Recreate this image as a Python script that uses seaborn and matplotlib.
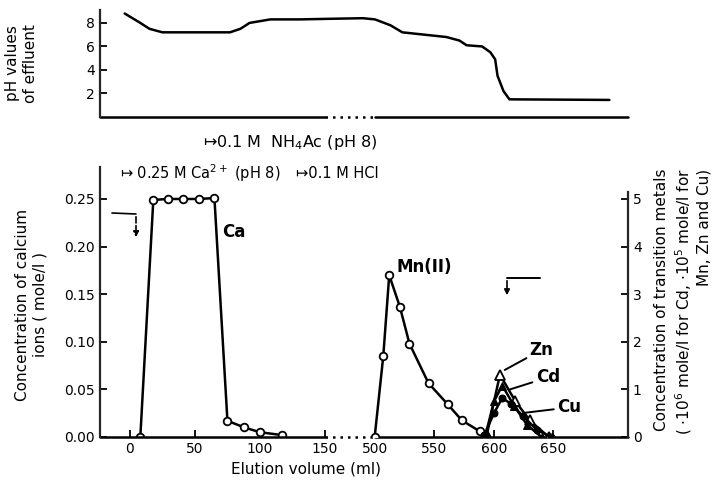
import numpy as np
import matplotlib
matplotlib.use("Agg")
import matplotlib.pyplot as plt
import seaborn as sns

# pH of effluent (top panel)
ph_vol = [-4, 8, 15, 25, 77, 85, 92, 108, 131, 185, 416, 500, 513, 523, 560, 571, 577, 590, 597, 601, 603, 608, 613, 697]
ph_val = [8.8, 8.0, 7.5, 7.2, 7.2, 7.5, 8.0, 8.3, 8.3, 8.35, 8.4, 8.3, 7.8, 7.2, 6.8, 6.5, 6.1, 6.0, 5.5, 4.9, 3.5, 2.2, 1.5, 1.45]

# calcium (left axis, mole/l)
ca_vol = [8, 18, 29, 41, 53, 65, 75, 88, 100, 117]
ca_conc = [0.0, 0.249, 0.250, 0.250, 0.250, 0.251, 0.017, 0.010, 0.005, 0.002]

# transition metals (right axis)
mn_vol = [498, 507, 512, 521, 529, 545, 561, 573, 588, 593]
mn_conc = [0.0, 1.7, 3.4, 2.73, 1.96, 1.13, 0.69, 0.35, 0.12, 0.0]
zn_vol = [594, 605, 618, 630, 646]
zn_conc = [0.05, 1.31, 0.75, 0.35, 0.0]
cd_vol = [593, 600, 607, 617, 628, 640]
cd_conc = [0.05, 0.75, 1.08, 0.65, 0.25, 0.0]
cu_vol = [592, 600, 607, 614, 624, 636, 648]
cu_conc = [0.05, 0.5, 0.82, 0.7, 0.45, 0.15, 0.0]

xticks = [0, 50, 100, 150, 500, 550, 600, 650]
ca_ticks = [0.0, 0.05, 0.10, 0.15, 0.20, 0.25]
tm_ticks = [0, 1, 2, 3, 4, 5]
ph_ticks = [2, 4, 6, 8]


# broken x axis: 150..500 ml squeezed into a short dotted stretch
def fwd(x):
    x = np.asarray(x, float)
    return np.where(x <= 150, 1.3 * x,
                    np.where(x >= 500, 245 + 1.19 * (x - 500), 195 + (x - 150) * 50 / 350))


def inv(u):
    u = np.asarray(u, float)
    return np.where(u <= 195, u / 1.3,
                    np.where(u >= 245, 500 + (u - 245) / 1.19, 150 + (u - 195) * 350 / 50))


sns.set_style("ticks")
plt.rcParams['font.family'] = ['DejaVu Sans']
plt.rcParams['text.color'] = 'k'
plt.rcParams['axes.labelcolor'] = 'k'
XMIN, XMAX = -23, 712.6

fig = plt.figure(figsize=(7.2, 4.8), dpi=100)
ax_ph = fig.add_axes([0.1389, 0.7563, 0.7333, 0.2229])
ax = fig.add_axes([0.1389, 0.0896, 0.7333, 0.5625])
ax2 = ax.twinx()

lw = 1.8
tick_kw = dict(direction='in', length=5, width=1.3, colors='k', labelsize=10)

# ---- top panel
for a in (ax_ph, ax):
    a.set_xscale('function', functions=(fwd, inv))
    a.set_xlim(XMIN, XMAX)

sns.lineplot(x=ph_vol, y=ph_val, ax=ax_ph, color='k', lw=lw, sort=False)
ax_ph.set_ylim(0, 9.1)
ax_ph.set_yticks(ph_ticks)
ax_ph.set_xticks([])
ax_ph.tick_params(axis='y', **tick_kw)
for s in ['top', 'right', 'bottom']:
    ax_ph.spines[s].set_visible(False)
ax_ph.spines['left'].set_linewidth(1.6)
ax_ph.set_ylabel("pH values\nof effluent", fontsize=11)
ax_ph.yaxis.set_label_coords(-0.118, 0.5)

# ---- lower panel
sns.lineplot(x=ca_vol, y=ca_conc, ax=ax, color='k', lw=lw, marker='o', ms=5.5,
             markerfacecolor='white', markeredgecolor='k', markeredgewidth=1.3)
sns.lineplot(x=mn_vol, y=mn_conc, ax=ax2, color='k', lw=lw, marker='o', ms=5.5,
             markerfacecolor='white', markeredgecolor='k', markeredgewidth=1.3)
sns.lineplot(x=zn_vol, y=zn_conc, ax=ax2, color='k', lw=lw, marker='^', ms=7,
             markerfacecolor='white', markeredgecolor='k', markeredgewidth=1.3)
sns.lineplot(x=cd_vol, y=cd_conc, ax=ax2, color='k', lw=lw, marker='^', ms=6,
             markerfacecolor='k', markeredgecolor='k')
sns.lineplot(x=cu_vol, y=cu_conc, ax=ax2, color='k', lw=lw, marker='o', ms=5,
             markerfacecolor='k', markeredgecolor='k')

ax.set_ylim(0, 0.2836)
ax2.set_ylim(0, 0.2836 * 20)
ax.set_yticks(ca_ticks)
ax.set_yticklabels([f"{v:.2f}" for v in ca_ticks])
ax2.set_yticks(tm_ticks)
ax.set_xticks(xticks)
ax.set_xticklabels([str(v) for v in xticks])
ax.tick_params(**tick_kw)
ax2.tick_params(axis='y', **tick_kw)

for s in ['top', 'right', 'bottom']:
    ax.spines[s].set_visible(False)
for s in ['top', 'left', 'bottom']:
    ax2.spines[s].set_visible(False)
ax.spines['left'].set_linewidth(1.6)
ax2.spines['right'].set_linewidth(1.6)
ax2.spines['right'].set_bounds(0, 5.15)

# axis base lines with dotted break
for a in (ax, ax_ph):
    tr = a.get_xaxis_transform()
    a.plot([XMIN, 150], [0, 0], color='k', lw=1.8, transform=tr, clip_on=False)
    a.plot([150, 500], [0, 0], color='k', lw=1.8, ls=(0, (1, 2)), transform=tr, clip_on=False)
    a.plot([500, XMAX], [0, 0], color='k', lw=1.8, transform=tr, clip_on=False)

ax.set_xlabel("Elution volume (ml)", fontsize=11)
ax.xaxis.set_label_coords(0.39, -0.09)
ax.set_ylabel("Concentration of calcium\nions ( mole/l )", fontsize=11)
ax.yaxis.set_label_coords(-0.1, 0.49)
ax2.set_ylabel("Concentration of transition metals\n( $\\cdot$10$^{6}$ mole/l for Cd, $\\cdot$10$^{5}$ mole/l for\nMn, Zn and Cu)",
               fontsize=11, multialignment='right', linespacing=1.25, labelpad=9)

# peak labels
ax.text(71, 0.2153, "Ca", fontsize=12, fontweight='bold', va='center')
ax2.text(518, 3.58, "Mn(II)", fontsize=12, fontweight='bold', va='center')
lab_kw = dict(fontsize=12, fontweight='bold', va='center',
              arrowprops=dict(arrowstyle='-', lw=1.4, color='k', shrinkA=0, shrinkB=2))
ax2.annotate("Zn", xy=(607, 1.38), xytext=(630, 1.83), **lab_kw)
ax2.annotate("Cd", xy=(611, 0.98), xytext=(635, 1.25), **lab_kw)
ax2.annotate("Cu", xy=(623, 0.5), xytext=(653, 0.62), **lab_kw)

# eluent changes
fig.text(203 / 720, 1 - 143 / 480, "\u21a60.1 M  NH$_4$Ac (pH 8)", fontsize=11.5, va='center')
fig.text(120 / 720, 1 - 173 / 480, "\u21a6 0.25 M Ca$^{2+}$ (pH 8)", fontsize=10.5, va='center')
fig.text(296 / 720, 1 - 173 / 480, "\u21a60.1 M HCl", fontsize=10.5, va='center')

# small direction marks
arr = dict(arrowstyle='-|>', lw=1.2, color='k', mutation_scale=8, linestyle='--')
fig.add_artist(plt.Line2D([112 / 720, 136 / 720], [1 - 213 / 480, 1 - 214 / 480], color='k', lw=1.2))
ax.annotate("", xy=(136, 480 - 240), xytext=(136, 480 - 214), xycoords='figure pixels',
            textcoords='figure pixels', arrowprops=arr)
fig.add_artist(plt.Line2D([507 / 720, 540 / 720], [1 - 278 / 480, 1 - 278 / 480], color='k', lw=1.4))
ax.annotate("", xy=(507, 480 - 298), xytext=(507, 480 - 278), xycoords='figure pixels',
            textcoords='figure pixels', arrowprops=dict(arrowstyle='-|>', lw=1.2, color='k', mutation_scale=8))

fig.savefig("out.png", dpi=100, facecolor='white')
